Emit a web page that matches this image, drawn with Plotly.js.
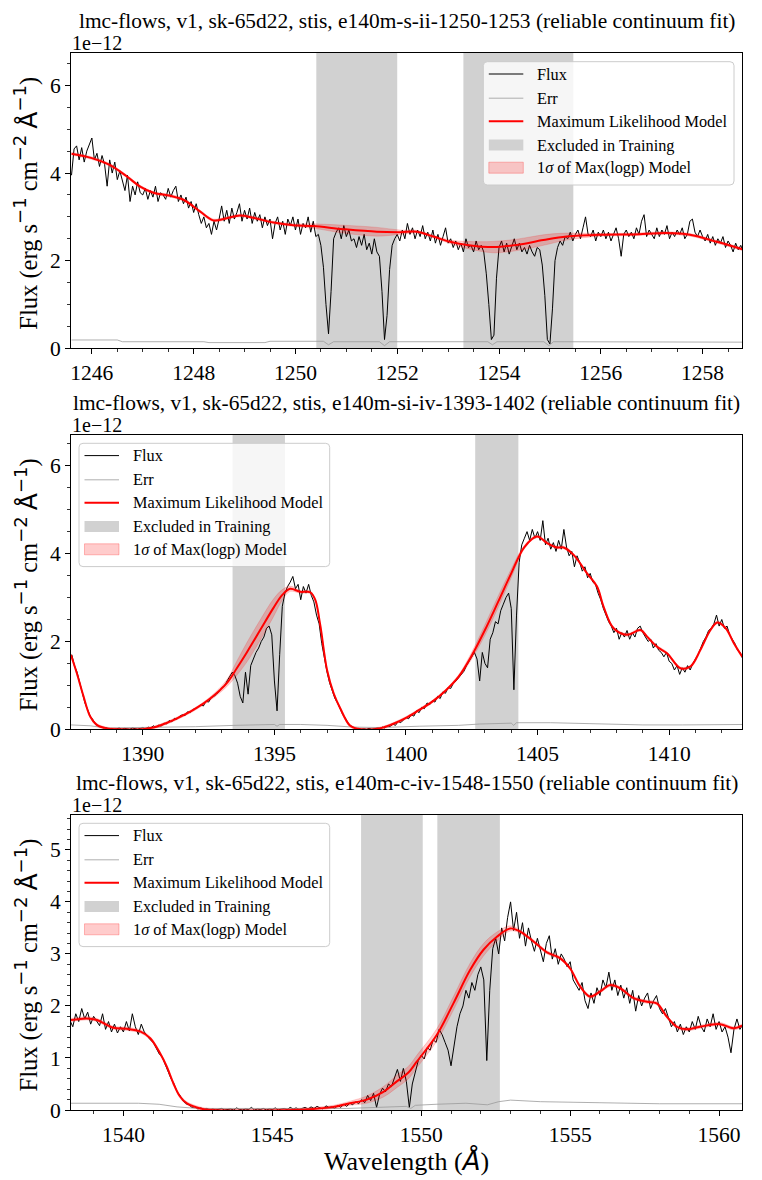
<!DOCTYPE html>
<html><head><meta charset="utf-8">
<script src="https://cdn.plot.ly/plotly-3.0.1.min.js"></script>
<style>html,body{margin:0;padding:0;background:#fff}#chart{width:762px;height:1180px}</style>
</head><body><div id="chart"></div>
<script>
// ---------------- DATA ----------------
const titles = [
  "lmc-flows, v1, sk-65d22, stis, e140m-s-ii-1250-1253 (reliable continuum fit)",
  "lmc-flows, v1, sk-65d22, stis, e140m-si-iv-1393-1402 (reliable continuum fit)",
  "lmc-flows, v1, sk-65d22, stis, e140m-c-iv-1548-1550 (reliable continuum fit)"
];
const legendLabels = ["Flux", "Err", "Maximum Likelihood Model", "Excluded in Training", "1\u03c3 of Max(logp) Model"];

// Panel 1 (S II)
const wave1Start = 1245.60, wave1Step = 0.05;
const flux1 = [
 3.95,4.55,4.62,4.30,4.58,4.25,4.50,4.65,
 4.80,4.30,4.45,4.15,4.40,4.20,3.70,4.30,4.00,4.25,3.85,4.05,3.80,3.60,3.95,3.35,3.70,3.50,3.80,3.55,
 3.50,3.65,3.40,3.60,3.45,3.70,3.35,3.55,3.50,3.40,3.65,3.45,3.60,3.70,3.35,3.50,3.30,3.45,3.20,3.35,
 3.10,3.30,3.05,2.85,3.00,2.75,2.85,2.60,2.90,2.70,2.95,3.25,2.90,3.15,2.85,3.20,2.95,3.10,3.30,2.90,
 3.15,2.95,3.20,2.85,3.10,2.90,3.05,2.75,3.00,2.80,2.95,2.50,2.85,3.00,2.70,2.90,2.60,2.95,2.80,3.00,
 2.70,2.95,2.60,2.85,2.75,3.00,2.65,2.90,2.55,2.60,2.35,1.85,1.00,0.33,1.30,2.50,2.65,2.75,2.50,2.80,
 2.55,2.70,2.45,2.50,2.30,2.55,2.35,2.60,2.25,2.40,2.15,2.50,2.20,2.10,1.30,0.20,0.75,1.80,2.35,2.50,
 2.60,2.45,2.70,2.50,2.85,2.60,2.75,2.50,2.70,2.55,2.80,2.50,2.65,2.45,2.70,2.40,2.60,2.35,2.55,2.75,
 2.40,2.50,2.30,2.45,2.25,2.40,2.20,2.50,2.30,2.35,2.20,2.45,2.25,2.35,2.20,1.70,1.00,0.20,0.30,1.60,
 2.30,2.45,2.20,2.40,2.15,2.35,2.50,2.25,2.40,2.20,2.30,2.15,2.35,2.20,2.10,2.30,2.25,1.90,1.20,0.20,
 0.10,0.90,2.00,2.30,2.45,2.35,2.55,2.50,2.65,2.45,2.60,2.70,2.50,2.75,3.00,2.60,2.55,2.70,2.45,2.65,
 2.55,2.70,2.50,2.65,2.45,2.60,2.75,2.50,2.10,2.60,2.70,2.55,2.65,2.50,2.75,2.60,2.90,3.05,2.55,2.70,
 2.60,2.50,2.75,2.55,2.70,2.60,2.80,2.50,2.65,2.55,2.70,2.60,2.75,2.50,2.60,2.90,2.95,2.65,2.55,2.70,
 2.55,2.45,2.60,2.40,2.55,2.35,2.50,2.40,2.55,2.30,2.45,2.35,2.20,2.40,2.25,2.35,2.20
];
const err1Wave = [1245.60,1246.50,1246.60,1248.20,1248.30,1249.40,1249.50,1250.55,1250.65,1250.75,1251.65,1251.75,1251.85,1253.78,1253.87,1253.96,1254.88,1254.98,1255.07,1258.80];
const err1 = [0.19,0.19,0.15,0.15,0.13,0.13,0.16,0.16,0.08,0.15,0.15,0.06,0.15,0.15,0.08,0.15,0.15,0.06,0.15,0.14];
const model1Wave = [1245.60,1246.00,1246.36,1246.69,1246.95,1247.21,1247.54,1247.80,1248.13,1248.39,1248.65,1248.91,1249.17,1249.57,1249.96,1250.35,1250.94,1251.60,1252.06,1252.39,1252.71,1253.04,1253.37,1253.89,1254.35,1254.87,1255.33,1255.99,1256.64,1257.30,1257.75,1258.28,1258.78];
const model1 = [4.44,4.34,4.18,3.92,3.69,3.55,3.48,3.39,3.12,2.92,2.97,3.03,2.98,2.87,2.81,2.79,2.72,2.66,2.65,2.66,2.55,2.43,2.36,2.31,2.36,2.47,2.55,2.59,2.60,2.63,2.59,2.43,2.26];
const sigma1 = [0.03,0.03,0.03,0.03,0.03,0.03,0.03,0.03,0.03,0.03,0.03,0.03,0.03,0.03,0.03,0.05,0.09,0.10,0.05,0.03,0.03,0.04,0.08,0.13,0.13,0.12,0.08,0.03,0.03,0.03,0.03,0.03,0.03];
const excluded1 = [[1250.41,1252.00],[1253.30,1255.46]];

// Panel 2 (Si IV)
const wave2Start = 1387.30, wave2Step = 0.1;
const flux2 = [
 1.70,1.45,1.30,1.05,0.85,0.60,0.45,
 0.30,0.22,0.12,0.08,0.05,0.03,0.04,0.01,0.02,0.00,
 0.01,0.03,0.00,0.02,0.01,0.00,0.03,0.01,0.00,0.02,
 0.04,0.01,0.05,0.03,0.08,0.04,0.10,0.07,0.14,0.12,
 0.20,0.17,0.25,0.23,0.30,0.33,0.31,0.40,0.38,0.45,
 0.48,0.50,0.56,0.53,0.64,0.62,0.72,0.75,0.80,0.86,
 0.95,0.98,1.10,1.20,1.30,1.22,1.05,0.75,0.60,1.30,
 0.80,1.45,1.60,1.75,1.85,2.00,2.10,2.30,2.35,2.15,
 1.10,0.42,1.70,2.80,3.10,3.25,3.35,3.48,3.20,3.30,
 2.95,3.25,3.10,3.30,3.05,2.90,2.60,2.40,1.95,1.60,
 1.30,1.05,0.85,0.70,0.60,0.45,0.33,0.25,0.14,0.08,
 0.04,0.01,0.02,0.00,0.01,0.00,0.02,0.00,0.01,0.03,
 0.02,0.05,0.03,0.08,0.06,0.12,0.09,0.18,0.15,0.22,
 0.27,0.24,0.33,0.30,0.42,0.38,0.50,0.47,0.60,0.56,
 0.65,0.62,0.75,0.70,0.85,0.82,0.95,0.93,1.05,1.10,
 1.18,1.25,1.32,1.45,1.55,1.65,1.75,1.60,1.10,1.75,
 1.50,1.40,2.05,2.20,2.45,2.40,2.70,2.85,3.00,3.10,
 2.75,0.90,2.60,3.80,4.20,4.35,4.50,4.30,4.55,4.35,
 4.50,4.30,4.75,4.20,4.35,4.10,4.25,4.05,4.30,4.10,
 4.55,4.15,3.95,4.05,3.70,3.95,3.80,3.60,3.70,3.45,
 3.55,3.35,3.30,3.10,2.95,2.75,2.60,2.45,2.35,2.20,
 2.30,2.05,2.20,2.10,2.25,2.05,2.20,2.10,2.30,2.35,
 2.20,2.10,2.00,2.05,1.85,1.95,1.80,1.75,1.65,1.75,
 1.55,1.50,1.35,1.45,1.25,1.40,1.30,1.45,1.35,1.50,
 1.60,1.70,1.85,2.00,2.10,2.25,2.30,2.40,2.60,2.35,
 2.50,2.30,2.35,2.15,2.05,1.95,1.80,1.75,1.60
];
const err2Wave = [1387.27,1388.00,1388.60,1390.50,1392.00,1393.50,1394.50,1395.00,1395.10,1395.20,1396.00,1397.00,1398.00,1399.00,1400.50,1402.00,1402.80,1403.20,1404.00,1404.09,1404.20,1405.50,1407.00,1409.00,1410.50,1412.78];
const err2 = [0.10,0.08,0.03,0.04,0.06,0.09,0.11,0.11,0.07,0.11,0.11,0.09,0.05,0.04,0.07,0.09,0.12,0.13,0.14,0.09,0.15,0.15,0.13,0.10,0.10,0.11];
const model2Wave = [1387.27,1387.49,1387.74,1388.00,1388.25,1388.63,1389.00,1390.00,1390.40,1390.80,1391.20,1391.92,1392.56,1393.19,1393.57,1393.95,1394.46,1394.97,1395.30,1395.60,1395.98,1396.36,1396.55,1396.74,1397.00,1397.25,1397.50,1397.88,1398.26,1399.00,1399.50,1400.00,1400.50,1401.00,1401.50,1402.00,1402.50,1403.00,1403.50,1404.00,1404.50,1404.98,1405.36,1405.74,1405.99,1406.37,1406.88,1407.26,1407.51,1407.89,1408.40,1408.91,1409.16,1409.54,1409.92,1410.43,1410.81,1411.19,1411.57,1411.83,1412.15,1412.46,1412.78];
const model2 = [1.69,1.28,0.76,0.29,0.10,0.02,0.00,0.00,0.04,0.12,0.22,0.44,0.70,1.05,1.39,1.75,2.26,2.77,3.06,3.20,3.13,3.12,2.95,2.38,1.35,0.82,0.48,0.08,0.00,0.02,0.12,0.26,0.44,0.63,0.88,1.20,1.68,2.26,2.90,3.55,4.15,4.39,4.24,4.14,4.14,3.97,3.55,3.25,2.79,2.30,2.15,2.26,2.11,1.88,1.73,1.39,1.43,1.81,2.26,2.43,2.30,1.96,1.65];
const sigma2 = [0.03,0.03,0.03,0.03,0.03,0.03,0.03,0.03,0.03,0.03,0.03,0.03,0.04,0.08,0.16,0.22,0.23,0.20,0.12,0.06,0.03,0.03,0.03,0.03,0.03,0.03,0.03,0.03,0.03,0.03,0.03,0.03,0.03,0.03,0.03,0.04,0.08,0.12,0.13,0.10,0.04,0.03,0.03,0.03,0.03,0.03,0.03,0.03,0.03,0.03,0.03,0.03,0.03,0.03,0.03,0.03,0.03,0.03,0.03,0.03,0.03,0.03,0.03];
const excluded2 = [[1393.41,1395.40],[1402.63,1404.27]];

// Panel 3 (C IV)
const wave3Start = 1538.20, wave3Step = 0.1;
const flux3 = [
 1.73,1.60,1.85,1.70,1.95,1.75,1.88,1.65,
 1.80,1.70,1.62,1.85,1.55,1.70,1.50,1.65,1.48,1.60,
 1.50,1.70,1.52,1.85,1.60,1.45,1.65,1.50,1.42,1.35,
 1.30,1.20,1.08,1.02,0.88,0.75,0.60,0.50,0.35,0.28,
 0.18,0.12,0.10,0.05,0.06,0.02,0.04,0.01,0.03,0.00,
 0.02,0.00,0.01,0.03,0.00,0.01,0.02,0.00,0.04,0.01,
 0.00,0.02,0.01,0.05,0.00,0.02,0.01,0.03,0.00,0.02,
 0.01,0.04,0.00,0.02,0.03,0.01,0.05,0.02,0.04,0.01,
 0.03,0.05,0.02,0.06,0.03,0.07,0.04,0.02,0.08,0.05,
 0.06,0.03,0.09,0.05,0.11,0.07,0.13,0.10,0.16,0.12,
 0.20,0.14,0.28,0.18,0.32,0.05,0.30,0.42,0.35,0.50,
 0.45,0.60,0.78,0.55,0.80,0.55,0.05,0.50,0.75,0.95,
 1.05,0.98,1.20,1.15,1.35,1.30,1.55,1.45,1.30,1.15,
 0.85,1.25,1.60,1.85,2.00,2.30,2.15,2.45,2.30,2.60,
 2.75,2.50,0.95,2.30,3.10,3.30,3.00,3.50,3.25,3.70,
 4.00,3.45,3.80,3.30,3.60,3.15,3.50,3.25,3.05,3.30,
 3.05,2.85,3.20,3.35,2.90,3.10,2.80,3.00,2.90,2.75,
 2.85,2.50,2.40,2.30,2.45,2.10,1.95,2.25,2.05,2.35,
 2.20,2.50,2.35,2.65,2.30,2.50,2.20,2.40,2.15,2.35,
 2.05,2.30,1.90,2.20,2.00,2.15,2.25,1.95,2.10,2.20,
 1.95,1.85,1.95,1.75,1.60,1.70,1.50,1.65,1.45,1.60,
 1.50,1.70,1.55,1.80,1.60,1.50,1.75,1.60,1.85,1.55,
 1.70,1.50,1.60,1.40,1.10,1.55,1.75,1.55,1.65
];
const err3Wave = [1538.24,1540.50,1541.20,1541.80,1542.50,1547.50,1548.50,1549.50,1549.65,1549.80,1550.50,1551.50,1552.22,1552.60,1553.00,1554.00,1556.00,1558.00,1560.78];
const err3 = [0.13,0.13,0.11,0.06,0.03,0.03,0.05,0.07,0.03,0.09,0.11,0.13,0.10,0.16,0.19,0.16,0.14,0.12,0.12];
const model3Wave = [1538.24,1538.77,1539.11,1539.66,1540.11,1540.56,1540.90,1541.23,1541.46,1541.68,1541.90,1542.13,1542.58,1542.91,1545.71,1546.38,1547.05,1547.61,1548.17,1548.73,1549.18,1549.57,1549.85,1550.52,1551.08,1551.64,1552.09,1552.54,1552.99,1553.32,1553.77,1554.22,1554.66,1555.00,1555.34,1555.67,1556.01,1556.34,1556.68,1557.13,1557.58,1557.91,1558.25,1558.58,1558.92,1559.36,1560.04,1560.48,1560.77];
const model3 = [1.73,1.76,1.73,1.58,1.56,1.51,1.38,1.09,0.83,0.51,0.26,0.13,0.03,0.00,0.00,0.02,0.06,0.13,0.20,0.35,0.55,0.72,0.93,1.44,2.05,2.69,3.08,3.33,3.49,3.43,3.24,3.03,2.92,2.72,2.37,2.18,2.28,2.40,2.34,2.15,2.08,2.05,1.79,1.60,1.55,1.60,1.65,1.57,1.62];
const sigma3 = [0.03,0.03,0.03,0.03,0.03,0.03,0.03,0.03,0.03,0.03,0.03,0.03,0.03,0.03,0.03,0.03,0.03,0.04,0.07,0.10,0.12,0.12,0.12,0.12,0.13,0.13,0.12,0.09,0.05,0.03,0.03,0.03,0.03,0.03,0.03,0.03,0.03,0.03,0.03,0.03,0.03,0.03,0.03,0.03,0.03,0.03,0.03,0.03,0.03];
const excluded3 = [[1547.98,1550.05],[1550.54,1552.64]];

// axis ranges / ticks
const xRanges = [[1245.59,1258.78],[1387.27,1412.78],[1538.24,1560.78]];
const yRanges = [[0,6.74],[0,6.70],[0,5.67]];
const xTicks = [{d:2,m:0.5},{d:5,m:1},{d:5,m:1}];
const yTicks = [{d:2,m:0.5},{d:2,m:0.5},{d:1,m:0.2}];

// ---------------- BUILD ----------------
const W = 762, H = 1180;
const SERIF = "Liberation Serif, Times New Roman, serif";
const px = v => v / W, py = v => 1 - v / H;
function grid(start, step, n){ const a=[]; for(let i=0;i<n;i++) a.push(+(start+i*step).toFixed(4)); return a; }

const panels = [
  {flux:flux1, fx:grid(wave1Start,wave1Step,flux1.length), ew:err1Wave, e:err1, mw:model1Wave, m:model1, s:sigma1, ex:excluded1},
  {flux:flux2, fx:grid(wave2Start,wave2Step,flux2.length), ew:err2Wave, e:err2, mw:model2Wave, m:model2, s:sigma2, ex:excluded2},
  {flux:flux3, fx:grid(wave3Start,wave3Step,flux3.length), ew:err3Wave, e:err3, mw:model3Wave, m:model3, s:sigma3, ex:excluded3}
];
const boxes = [
  {l:71, r:742.3, t:53, b:348.3},
  {l:71, r:742.3, t:435, b:729.3},
  {l:71, r:742.3, t:815, b:1110}
];
const legendPos = [{x:483.3,y:61.7},{x:79,y:443.3},{x:79,y:823.3}];

const traces = [];
const layout = {
  width: W, height: H, margin:{l:0,r:0,t:0,b:0},
  paper_bgcolor:'#fff', plot_bgcolor:'#fff', showlegend:false,
  font:{family:SERIF, color:'#000'},
  shapes:[], annotations:[]
};
const SUP = s => `<sup><span style="font-family:DejaVu Sans;font-size:18px">${s}</span></sup>`;

panels.forEach((p, i) => {
  const xa = i===0 ? 'x' : 'x'+(i+1), ya = i===0 ? 'y' : 'y'+(i+1);
  const yr = yRanges[i];
  p.ex.forEach(b => {
    traces.push({x:[b[0],b[1],b[1],b[0],b[0]], y:[yr[0],yr[0],yr[1],yr[1],yr[0]], xaxis:xa, yaxis:ya,
      mode:'lines', fill:'toself', fillcolor:'rgb(209,209,209)', line:{width:0}, hoverinfo:'skip'});
  });
  traces.push({x:p.fx, y:p.flux, xaxis:xa, yaxis:ya, mode:'lines', line:{color:'#000', width:1}, hoverinfo:'skip'});
  traces.push({x:p.ew, y:p.e, xaxis:xa, yaxis:ya, mode:'lines', line:{color:'#9a9a9a', width:0.8}, hoverinfo:'skip'});
  const lo = p.m.map((v,k)=>v-p.s[k]), hi = p.m.map((v,k)=>v+p.s[k]);
  traces.push({x:p.mw, y:lo, xaxis:xa, yaxis:ya, mode:'lines', line:{color:'rgba(255,0,0,0.2)', width:0.8, shape:'spline'}, hoverinfo:'skip'});
  traces.push({x:p.mw, y:hi, xaxis:xa, yaxis:ya, mode:'lines', fill:'tonexty', fillcolor:'rgba(255,0,0,0.2)', line:{color:'rgba(255,0,0,0.2)', width:0.8, shape:'spline'}, hoverinfo:'skip'});
  traces.push({x:p.mw, y:p.m, xaxis:xa, yaxis:ya, mode:'lines', line:{color:'#ff0000', width:2, shape:'spline'}, hoverinfo:'skip'});

  const bx = boxes[i];
  const axCommon = {showline:true, linecolor:'#000', linewidth:1, mirror:true, ticks:'outside', ticklen:5, tickwidth:1, tickcolor:'#000',
    showgrid:false, zeroline:false, tickfont:{family:SERIF, size:21.5, color:'#000'}, fixedrange:true};
  layout[i===0?'xaxis':'xaxis'+(i+1)] = Object.assign({}, axCommon, {
    domain:[px(bx.l), px(bx.r)], range:xRanges[i], anchor:ya, tick0:0, dtick:xTicks[i].d,
    minor:{ticks:'outside', ticklen:3, tickwidth:0.8, tickcolor:'#000', dtick:xTicks[i].m, tick0:0, showgrid:false}
  });
  layout[i===0?'yaxis':'yaxis'+(i+1)] = Object.assign({}, axCommon, {
    domain:[py(bx.b), py(bx.t)], range:yr, anchor:xa, tick0:0, dtick:yTicks[i].d,
    minor:{ticks:'outside', ticklen:3, tickwidth:0.8, tickcolor:'#000', dtick:yTicks[i].m, tick0:0, showgrid:false}
  });

  layout.annotations.push({xref:'paper', yref:'paper', x:px((bx.l+bx.r)/2), y:py(bx.t-32), xanchor:'center', yanchor:'middle',
    text:titles[i], showarrow:false, font:{family:SERIF, size:21.4, color:'#000'}});
  layout.annotations.push({xref:'paper', yref:'paper', x:px(bx.l-1), y:py(bx.t-10), xanchor:'left', yanchor:'middle',
    text:'1e\u221212', showarrow:false, font:{family:SERIF, size:20, color:'#000'}});
  layout.annotations.push({xref:'paper', yref:'paper', x:px(26), y:py((bx.t+bx.b)/2 + 3), xanchor:'center', yanchor:'middle', textangle:-90,
    text:'Flux (erg s' + SUP('\u22121') + ' cm' + SUP('\u22122') + ' <span style="font-family:DejaVu Sans;font-size:25px">\u00c5</span>' + SUP('\u22121') + ')',
    showarrow:false, font:{family:SERIF, size:24.5, color:'#000'}});

  const L = legendPos[i], lw = 250.7, lh = 123.3, r = 4;
  const X = v => px(v), Y = v => py(v);
  const x0 = L.x, y0 = L.y, x1 = L.x+lw, y1 = L.y+lh;
  layout.shapes.push({type:'path', xref:'paper', yref:'paper',
    path:`M ${X(x0+r)} ${Y(y0)} L ${X(x1-r)} ${Y(y0)} Q ${X(x1)} ${Y(y0)} ${X(x1)} ${Y(y0+r)} L ${X(x1)} ${Y(y1-r)} Q ${X(x1)} ${Y(y1)} ${X(x1-r)} ${Y(y1)} L ${X(x0+r)} ${Y(y1)} Q ${X(x0)} ${Y(y1)} ${X(x0)} ${Y(y1-r)} L ${X(x0)} ${Y(y0+r)} Q ${X(x0)} ${Y(y0)} ${X(x0+r)} ${Y(y0)} Z`,
    fillcolor:'rgba(255,255,255,0.8)', line:{color:'#cccccc', width:1}, layer:'above'});
  const rows = [12.3, 36.5, 59.5, 83.3, 106.0].map(v => y0 + v);
  const hx0 = x0 + 5.5, hx1 = x0 + 40;
  layout.shapes.push({type:'line', xref:'paper', yref:'paper', x0:X(hx0), x1:X(hx1), y0:Y(rows[0]), y1:Y(rows[0]), line:{color:'#000', width:1}, layer:'above'});
  layout.shapes.push({type:'line', xref:'paper', yref:'paper', x0:X(hx0), x1:X(hx1), y0:Y(rows[1]), y1:Y(rows[1]), line:{color:'#9a9a9a', width:0.8}, layer:'above'});
  layout.shapes.push({type:'line', xref:'paper', yref:'paper', x0:X(hx0), x1:X(hx1), y0:Y(rows[2]), y1:Y(rows[2]), line:{color:'#ff0000', width:2}, layer:'above'});
  layout.shapes.push({type:'rect', xref:'paper', yref:'paper', x0:X(hx0), x1:X(hx1), y0:Y(rows[3]-5.5), y1:Y(rows[3]+5.5), fillcolor:'rgb(209,209,209)', line:{width:0}, layer:'above'});
  layout.shapes.push({type:'rect', xref:'paper', yref:'paper', x0:X(hx0), x1:X(hx1), y0:Y(rows[4]-5.5), y1:Y(rows[4]+5.5), fillcolor:'rgba(255,0,0,0.2)', line:{color:'rgba(255,0,0,0.25)', width:1}, layer:'above'});
  legendLabels.forEach((t, k) => {
    layout.annotations.push({xref:'paper', yref:'paper', x:X(x0+52), y:Y(rows[k]), xanchor:'left', yanchor:'middle',
      text:t.replace('\u03c3','<i>\u03c3</i>'), showarrow:false, font:{family:SERIF, size:16.3, color:'#000'}});
  });
});

layout.annotations.push({xref:'paper', yref:'paper', x:px(406.6), y:py(1160), xanchor:'center', yanchor:'middle',
  text:'Wavelength (<i><span style="font-family:DejaVu Sans">\u00c5</span></i>)', showarrow:false, font:{family:SERIF, size:26, color:'#000'}});

Plotly.newPlot('chart', traces, layout, {displayModeBar:false, staticPlot:true});
</script>
</body></html>
